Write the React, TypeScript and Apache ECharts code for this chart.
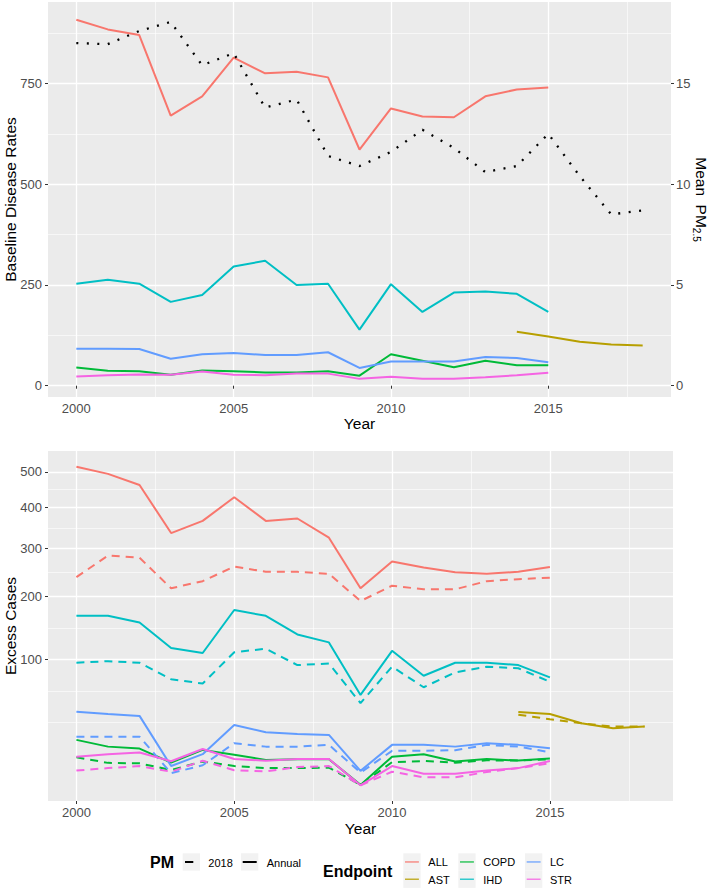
import React, { useEffect, useRef } from "react";
import * as echarts from "echarts";

// ---------- DATA ----------
const years = [2000, 2001, 2002, 2003, 2004, 2005, 2006, 2007, 2008, 2009, 2010, 2011, 2012, 2013, 2014, 2015];
const astYears = [2014, 2015, 2016, 2017, 2018];
const pmYears = [2000, 2001, 2002, 2003, 2004, 2005, 2006, 2007, 2008, 2009, 2010, 2011, 2012, 2013, 2014, 2015, 2016, 2017, 2018];

// Baseline disease rates (top panel, left axis)
const baseALL = [908, 884, 870, 670, 718, 814, 775, 779, 765, 586, 688, 668, 666, 718, 735, 740];
const baseCOPD = [45, 37, 36, 27, 38, 36, 33, 33, 36, 25, 78, 62, 46, 62, 51, 51];
const baseIHD = [253, 263, 253, 208, 225, 296, 310, 250, 253, 139, 252, 183, 231, 234, 228, 183];
const baseLC = [92, 92, 91, 67, 78, 81, 76, 76, 83, 44, 60, 60, 60, 71, 69, 58];
const baseSTR = [23, 26, 28, 27, 35, 27, 26, 30, 30, 17, 22, 17, 17, 21, 26, 32];
const baseAST = [134, 122, 109, 102, 100];
// Mean PM2.5 (top panel, right axis)
const meanPM = [17.0, 16.95, 17.6, 18.05, 15.9, 16.5, 13.8, 14.2, 11.4, 10.9, 11.6, 12.7, 11.8, 10.6, 10.9, 12.5, 10.4, 8.5, 8.7];

// Excess cases (bottom panel, sqrt scale)
const excALLAnnual = [515, 494, 462, 336, 366, 428, 366, 372, 325, 216, 271, 258, 248, 245, 249, 259];
const excALL2018 = [238, 284, 279, 216, 230, 260, 249, 249, 245, 192, 221, 214, 214, 230, 234, 237];
const excIHDAnnual = [166, 166, 155, 116, 109, 176, 166, 136, 124, 59, 112, 80, 96, 96, 93, 78];
const excIHD2018 = [96, 98, 96, 76, 71, 110, 115, 93, 95, 51, 91, 67, 84, 91, 89, 73];
const excLCAnnual = [43.3, 41.3, 39.7, 9.0, 14.3, 32.5, 27.3, 26.1, 25.5, 7.2, 19.3, 19.3, 18.3, 20.3, 19.3, 17.4];
const excLC2018 = [24.3, 24.3, 24.3, 6.4, 9.3, 20.3, 18.3, 18.3, 19.3, 6.6, 16.0, 16.1, 16.3, 19.3, 18.3, 15.3];
const excCOPDAnnual = [22.3, 18.3, 17.2, 10.4, 16.5, 14.0, 11.6, 11.9, 11.9, 3.1, 13.1, 14.3, 10.9, 12.0, 11.3, 12.2];
const excCOPD2018 = [12.8, 10.3, 10.1, 7.5, 10.9, 9.0, 8.2, 8.2, 8.4, 3.1, 10.6, 11.1, 10.4, 11.4, 11.3, 11.9];
const excSTRAnnual = [13.1, 14.3, 15.1, 11.0, 17.0, 12.0, 11.2, 12.0, 12.0, 3.0, 9.0, 6.2, 6.2, 7.3, 8.2, 11.1];
const excSTR2018 = [7.3, 8.2, 9.0, 6.9, 11.2, 7.4, 7.0, 8.6, 9.0, 3.0, 6.9, 5.1, 5.1, 6.8, 8.2, 10.1];
const excASTAnnual = [43.0, 41.3, 33.8, 30.1, 31.3];
const excAST2018 = [40.7, 37.0, 33.8, 31.3, 31.3];

const xMajorTicks = [2000, 2005, 2010, 2015];
const xMinorTicks = [2002.5, 2007.5, 2012.5, 2017.5];
const baseMajorTicks = [0, 250, 500, 750];
const baseMinorTicks = [125, 375, 625, 875];
const pmTicks = [0, 5, 10, 15];
const excMajorTicks = [100, 200, 300, 400, 500];

const endpoints = ["ALL", "AST", "COPD", "IHD", "LC", "STR"];
const colors: Record<string, string> = {
  ALL: "#F8766D",
  AST: "#B79F00",
  COPD: "#00BA38",
  IHD: "#00BFC4",
  LC: "#619CFF",
  STR: "#F564E3",
};

const FONT = "'Liberation Sans', Arial, Helvetica, sans-serif";

function pairs(xs: number[], ys: number[], f: (v: number) => number = (v) => v) {
  return xs.map((x, i) => [x, f(ys[i])]);
}

export default function App() {
  const ref = useRef<HTMLDivElement>(null);
  useEffect(() => {
    if (!ref.current) return;
    const chart = echarts.init(ref.current, null, { renderer: "svg" });

    const sq = (v: number) => Math.sqrt(v);
    // minor breaks in sqrt space (ggplot regular_minor_breaks)
    const sMaj = excMajorTicks.map(sq);
    const bd = sMaj[1] - sMaj[0];
    const ext = [sMaj[0] - bd, ...sMaj];
    const sMinor: number[] = [];
    for (let i = 0; i < ext.length - 1; i++) sMinor.push((ext[i] + ext[i + 1]) / 2);
    sMinor.unshift(ext[0]);

    const tickStyle = { show: true, length: 3, lineStyle: { color: "#333333", width: 1 } };
    const labelStyle = { color: "#4D4D4D", fontSize: 13, fontFamily: FONT };
    const majorSplit = { show: true, lineStyle: { color: "#FFFFFF", width: 1.3 } };
    const minorSplit = { show: true, lineStyle: { color: "#FFFFFF", width: 0.6 } };
    const nameStyle = { color: "#000000", fontSize: 15.5, fontFamily: FONT };

    const xBase = (gridIndex: number) => ({
      type: "value",
      gridIndex,
      min: 1999.1,
      max: 2018.9,
      axisLine: { show: false },
    });

    const lineW = 2;
    const solid = (name: string, data: any[], xi: number, yi: number) => ({
      type: "line",
      name,
      xAxisIndex: xi,
      yAxisIndex: yi,
      data,
      showSymbol: false,
      symbol: "none",
      lineStyle: { color: colors[name], width: lineW, type: "solid" },
      itemStyle: { color: colors[name] },
      silent: true,
    });
    const dashed = (name: string, data: any[], xi: number, yi: number) => ({
      ...solid(name, data, xi, yi),
      lineStyle: { color: colors[name], width: lineW, type: [8, 6] },
    });

    const topSeries = [
      solid("ALL", pairs(years, baseALL), 0, 0),
      solid("AST", pairs(astYears, baseAST), 0, 0),
      solid("COPD", pairs(years, baseCOPD), 0, 0),
      solid("IHD", pairs(years, baseIHD), 0, 0),
      solid("LC", pairs(years, baseLC), 0, 0),
      solid("STR", pairs(years, baseSTR), 0, 0),
      {
        type: "line",
        name: "PM",
        xAxisIndex: 0,
        yAxisIndex: 1,
        data: pairs(pmYears, meanPM),
        showSymbol: false,
        symbol: "none",
        lineStyle: { color: "#000000", width: 2.3, type: [2, 8.5] },
        silent: true,
      },
    ];

    const bottomSeries = [
      dashed("ALL", pairs(years, excALL2018, sq), 2, 3),
      solid("ALL", pairs(years, excALLAnnual, sq), 2, 3),
      dashed("AST", pairs(astYears, excAST2018, sq), 2, 3),
      solid("AST", pairs(astYears, excASTAnnual, sq), 2, 3),
      dashed("COPD", pairs(years, excCOPD2018, sq), 2, 3),
      solid("COPD", pairs(years, excCOPDAnnual, sq), 2, 3),
      dashed("IHD", pairs(years, excIHD2018, sq), 2, 3),
      solid("IHD", pairs(years, excIHDAnnual, sq), 2, 3),
      dashed("LC", pairs(years, excLC2018, sq), 2, 3),
      solid("LC", pairs(years, excLCAnnual, sq), 2, 3),
      dashed("STR", pairs(years, excSTR2018, sq), 2, 3),
      solid("STR", pairs(years, excSTRAnnual, sq), 2, 3),
    ];

    // Legend (ggplot style) built as graphic elements
    const legend: any[] = [];
    const txt = (x: number, y: number, text: string, size: number, bold = false) => ({
      type: "text",
      x,
      y,
      style: {
        text,
        fill: "#000000",
        font: `${bold ? "bold " : ""}${size}px ${FONT}`,
        textVerticalAlign: "middle",
        verticalAlign: "middle",
      },
    });
    const keyBox = (x: number, y: number) => ({
      type: "rect",
      shape: { x, y, width: 17.3, height: 17.3 },
      style: { fill: "#F2F2F2" },
    });
    const keyLine = (x1: number, x2: number, y: number, color: string, w = 1.8, opacity = 1) => ({
      type: "line",
      shape: { x1, y1: y, x2, y2: y },
      style: { stroke: color, lineWidth: w, opacity },
    });
    legend.push(txt(150, 862.5, "PM", 16, true));
    legend.push(keyBox(182.7, 853.3));
    legend.push(keyLine(185, 193.3, 862, "#000000", 2));
    legend.push(txt(208.3, 862.5, "2018", 11));
    legend.push(keyBox(241, 853.3));
    legend.push(keyLine(242.7, 256.7, 862, "#000000", 2));
    legend.push(txt(266.7, 862.5, "Annual", 11));
    legend.push(txt(323, 871, "Endpoint", 16, true));
    const cols = [403.3, 458.3, 525];
    endpoints.forEach((ep, i) => {
      const c = Math.floor(i / 2);
      const r = i % 2;
      const bx = cols[c];
      const by = 853.3 + r * 17.3;
      legend.push(keyBox(bx, by));
      legend.push(keyLine(bx + 1.7, bx + 15.6, by + 8.65, colors[ep], 1.5, 0.8));
      legend.push(txt(bx + 25, by + 9, ep, 11));
    });

    const option: any = {
      animation: false,
      backgroundColor: "#FFFFFF",
      textStyle: { fontFamily: FONT },
      grid: [
        {
          left: 48, top: 2, width: 623, height: 395, show: true,
          backgroundColor: "#EBEBEB", borderWidth: 0, containLabel: false, outerBoundsMode: "none",
        },
        {
          left: 48, top: 451, width: 625, height: 350, show: true,
          backgroundColor: "#EBEBEB", borderWidth: 0, containLabel: false, outerBoundsMode: "none",
        },
      ],
      xAxis: [
        {
          ...xBase(0),
          axisTick: { ...tickStyle, customValues: xMajorTicks },
          axisLabel: { ...labelStyle, margin: 5, customValues: xMajorTicks, formatter: (v: number) => String(v) },
          splitLine: majorSplit,
          name: "Year",
          nameLocation: "middle",
          nameGap: 18,
          nameMoveOverlap: false,
          nameTextStyle: nameStyle,
          z: 1,
        },
        {
          ...xBase(0),
          axisTick: { show: false, customValues: xMinorTicks },
          axisLabel: { show: false },
          splitLine: minorSplit,
          z: 0,
        },
        {
          ...xBase(1),
          axisTick: { ...tickStyle, customValues: xMajorTicks },
          axisLabel: { ...labelStyle, margin: 5, customValues: xMajorTicks, formatter: (v: number) => String(v) },
          splitLine: majorSplit,
          name: "Year",
          nameLocation: "middle",
          nameGap: 19,
          nameMoveOverlap: false,
          nameTextStyle: nameStyle,
          z: 1,
        },
        {
          ...xBase(1),
          axisTick: { show: false, customValues: xMinorTicks },
          axisLabel: { show: false },
          splitLine: minorSplit,
          z: 0,
        },
      ],
      yAxis: [
        {
          type: "value",
          gridIndex: 0,
          position: "left",
          min: -28,
          max: 952,
          axisLine: { show: false },
          axisTick: { ...tickStyle, customValues: baseMajorTicks },
          axisLabel: { ...labelStyle, margin: 6, customValues: baseMajorTicks, formatter: (v: number) => String(v) },
          splitLine: majorSplit,
          name: "Baseline Disease Rates",
          nameLocation: "middle",
          nameGap: 30,
          nameMoveOverlap: false,
          nameTextStyle: nameStyle,
        },
        {
          type: "value",
          gridIndex: 0,
          position: "right",
          min: -0.56,
          max: 19.04,
          axisLine: { show: false },
          axisTick: { ...tickStyle, customValues: pmTicks },
          axisLabel: { ...labelStyle, margin: 5, customValues: pmTicks, formatter: (v: number) => String(v) },
          splitLine: { show: false },
          name: "{m|Mean  PM}{s|2.5}",
          nameLocation: "middle",
          nameRotate: -90,
          nameGap: 20,
          nameMoveOverlap: false,
          nameTextStyle: {
            ...nameStyle,
            rich: {
              m: { fontSize: 15.5, fontFamily: FONT, color: "#000", lineHeight: 20, verticalAlign: "middle" },
              s: { fontSize: 10, fontFamily: FONT, color: "#000", lineHeight: 20, verticalAlign: "bottom", padding: [7, 0, 0, 0] },
            },
          },
        },
        {
          type: "value",
          gridIndex: 0,
          position: "left",
          min: -28,
          max: 952,
          axisLine: { show: false },
          axisTick: { show: false, customValues: baseMinorTicks },
          axisLabel: { show: false },
          splitLine: minorSplit,
          z: 0,
        },
        {
          type: "value",
          gridIndex: 1,
          position: "left",
          min: 0.7,
          max: 23.73,
          axisLine: { show: false },
          axisTick: { ...tickStyle, customValues: sMaj },
          axisLabel: {
            ...labelStyle,
            margin: 6,
            customValues: sMaj,
            formatter: (v: number) => String(Math.round(v * v)),
          },
          splitLine: majorSplit,
          name: "Excess Cases",
          nameLocation: "middle",
          nameGap: 30,
          nameMoveOverlap: false,
          nameTextStyle: nameStyle,
        },
        {
          type: "value",
          gridIndex: 1,
          position: "left",
          min: 0.7,
          max: 23.73,
          axisLine: { show: false },
          axisTick: { show: false, customValues: sMinor },
          axisLabel: { show: false },
          splitLine: minorSplit,
          z: 0,
        },
      ],
      series: [...topSeries, ...bottomSeries],
      graphic: legend,
    };
    chart.setOption(option);
    return () => chart.dispose();
  }, []);

  return (
    <div
      ref={ref}
      style={{ position: "fixed", left: 0, top: 0, width: 709, height: 889, background: "#fff" }}
    />
  );
}
